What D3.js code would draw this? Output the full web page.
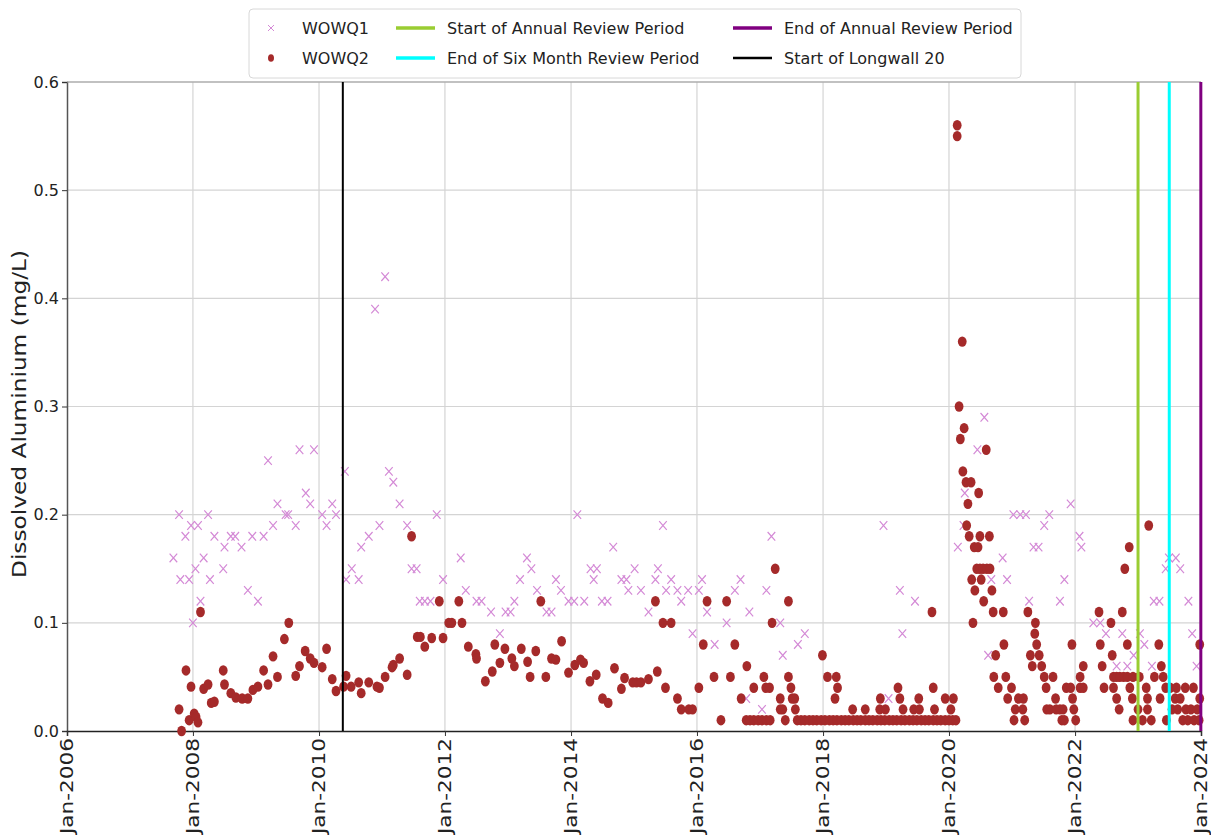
<!DOCTYPE html>
<html>
<head>
<meta charset="utf-8">
<script src="https://cdnjs.cloudflare.com/ajax/libs/d3/7.8.5/d3.min.js"></script>
<style>
html,body{margin:0;padding:0;background:#fff;}
svg{display:block;}
text{font-family:"DejaVu Sans",sans-serif;}
</style>
</head>
<body>
<svg id="chart" width="1211" height="837"></svg>
<script>
// ---------- DATA (dates as decimal years, values in mg/L) ----------
const wowq1Dates = [2007.69,2007.78,2007.80,2007.88,2007.94,2007.97,2008.00,2008.04,2008.08,2008.12,2008.17,2008.24,2008.27,2008.34,2008.48,2008.50,2008.60,2008.67,2008.77,2008.87,2008.94,2009.03,2009.12,2009.19,2009.27,2009.34,2009.47,2009.51,2009.63,2009.69,2009.79,2009.86,2009.92,2010.05,2010.12,2010.21,2010.27,2010.41,2010.43,2010.52,2010.63,2010.67,2010.79,2010.89,2010.96,2011.05,2011.11,2011.18,2011.28,2011.40,2011.47,2011.55,2011.60,2011.68,2011.77,2011.87,2011.97,2012.25,2012.33,2012.50,2012.58,2012.73,2012.87,2012.96,2013.04,2013.10,2013.19,2013.30,2013.37,2013.46,2013.61,2013.69,2013.76,2013.84,2013.96,2014.05,2014.10,2014.21,2014.31,2014.36,2014.41,2014.49,2014.58,2014.67,2014.80,2014.88,2014.91,2015.01,2015.11,2015.23,2015.34,2015.38,2015.46,2015.51,2015.59,2015.69,2015.75,2015.86,2015.93,2016.03,2016.08,2016.16,2016.28,2016.47,2016.60,2016.69,2016.78,2016.83,2017.03,2017.10,2017.18,2017.32,2017.36,2017.60,2017.71,2018.96,2019.04,2019.22,2019.26,2019.46,2020.14,2020.23,2020.25,2020.45,2020.56,2020.62,2020.67,2020.85,2020.92,2021.02,2021.13,2021.22,2021.27,2021.34,2021.42,2021.51,2021.59,2021.76,2021.83,2021.93,2022.07,2022.10,2022.29,2022.40,2022.49,2022.66,2022.75,2022.83,2022.93,2023.03,2023.10,2023.22,2023.25,2023.34,2023.44,2023.49,2023.60,2023.67,2023.80,2023.86,2023.93];
const wowq1Values = [0.16,0.20,0.14,0.18,0.14,0.19,0.10,0.15,0.19,0.12,0.16,0.20,0.14,0.18,0.15,0.17,0.18,0.18,0.17,0.13,0.18,0.12,0.18,0.25,0.19,0.21,0.20,0.20,0.19,0.26,0.22,0.21,0.26,0.20,0.19,0.21,0.20,0.24,0.14,0.15,0.14,0.17,0.18,0.39,0.19,0.42,0.24,0.23,0.21,0.19,0.15,0.15,0.12,0.12,0.12,0.20,0.14,0.16,0.13,0.12,0.12,0.11,0.09,0.11,0.11,0.12,0.14,0.16,0.15,0.13,0.11,0.11,0.14,0.13,0.12,0.12,0.20,0.12,0.15,0.14,0.15,0.12,0.12,0.17,0.14,0.14,0.13,0.15,0.13,0.11,0.14,0.15,0.19,0.13,0.14,0.13,0.12,0.13,0.09,0.13,0.14,0.11,0.08,0.10,0.13,0.14,0.03,0.11,0.02,0.13,0.18,0.10,0.07,0.08,0.09,0.19,0.03,0.13,0.09,0.12,0.17,0.19,0.22,0.26,0.29,0.07,0.14,0.16,0.14,0.20,0.20,0.20,0.12,0.17,0.17,0.19,0.20,0.12,0.14,0.21,0.18,0.17,0.10,0.10,0.09,0.06,0.09,0.06,0.07,0.09,0.08,0.06,0.12,0.12,0.15,0.16,0.16,0.15,0.12,0.09,0.06];

const wowq2Dates = [2007.78,2007.82,2007.89,2007.94,2007.97,2008.02,2008.05,2008.08,2008.12,2008.17,2008.24,2008.29,2008.34,2008.48,2008.50,2008.60,2008.68,2008.78,2008.87,2008.95,2009.03,2009.12,2009.19,2009.27,2009.34,2009.45,2009.52,2009.63,2009.69,2009.78,2009.86,2009.92,2010.05,2010.12,2010.21,2010.27,2010.39,2010.43,2010.51,2010.63,2010.67,2010.79,2010.92,2010.96,2011.05,2011.16,2011.18,2011.28,2011.40,2011.47,2011.56,2011.61,2011.68,2011.79,2011.91,2011.97,2012.06,2012.11,2012.22,2012.27,2012.37,2012.49,2012.50,2012.64,2012.75,2012.79,2012.87,2012.95,2013.06,2013.10,2013.21,2013.31,2013.35,2013.44,2013.52,2013.60,2013.69,2013.76,2013.85,2013.96,2014.06,2014.15,2014.20,2014.30,2014.40,2014.50,2014.59,2014.69,2014.80,2014.85,2014.98,2015.04,2015.11,2015.23,2015.34,2015.37,2015.46,2015.50,2015.59,2015.69,2015.75,2015.87,2015.93,2016.03,2016.10,2016.16,2016.27,2016.38,2016.47,2016.53,2016.60,2016.70,2016.78,2016.79,2016.84,2016.90,2016.90,2016.97,2017.03,2017.06,2017.09,2017.10,2017.15,2017.16,2017.19,2017.24,2017.32,2017.32,2017.36,2017.40,2017.45,2017.45,2017.49,2017.51,2017.55,2017.56,
2017.59,2017.65,2017.71,2017.78,2017.84,2017.90,2017.97,2018.03,2018.10,2018.16,2018.22,2018.29,2018.35,2018.41,2018.48,2018.54,2018.60,2018.67,2018.73,2018.79,2018.86,2018.92,2018.98,2019.05,2019.11,2019.17,2019.24,2019.30,2019.37,2019.43,2019.49,2019.56,2019.62,2019.68,2019.75,2019.81,2019.87,2019.94,2020.00,2020.06,2020.11,
2017.99,2018.07,2018.19,2018.21,2018.23,2018.47,2018.67,2018.90,2018.91,2018.99,2019.19,2019.22,2019.27,2019.44,2019.52,2019.53,2019.73,2019.75,2019.77,2019.94,2020.03,2020.07,
2020.13,2020.13,2020.16,2020.18,2020.21,2020.22,2020.24,2020.27,2020.28,2020.30,2020.32,2020.35,2020.36,2020.38,2020.40,2020.41,2020.44,2020.46,2020.47,2020.49,2020.49,2020.51,2020.54,2020.55,2020.59,2020.60,2020.64,2020.65,2020.68,2020.70,2020.71,2020.74,2020.78,2020.86,2020.87,2020.90,2020.93,2020.99,2021.03,2021.05,2021.10,2021.17,2021.18,2021.20,2021.25,2021.29,2021.32,2021.36,2021.37,2021.39,2021.43,2021.47,2021.51,2021.54,2021.55,2021.60,2021.65,2021.69,2021.70,2021.76,2021.79,2021.81,2021.83,2021.86,2021.93,2021.95,2021.96,2021.98,2022.01,2022.08,2022.08,2022.13,2022.13,2022.38,2022.40,2022.43,2022.46,2022.57,2022.59,2022.61,2022.61,2022.66,2022.66,2022.70,2022.71,2022.75,2022.77,2022.79,2022.83,2022.83,2022.86,2022.87,2022.91,2022.92,2022.92,2023.00,2023.02,2023.07,2023.13,2023.15,2023.15,2023.17,2023.21,2023.26,2023.33,2023.35,2023.37,2023.40,2023.44,2023.45,2023.51,2023.54,2023.59,2023.61,2023.63,2023.67,2023.71,2023.75,2023.76,2023.79,2023.84,2023.88,2023.89,2023.94,2023.97,2023.98,2023.98];
const wowq2Values = [0.02,0.00,0.056,0.01,0.041,0.016,0.013,0.008,0.11,0.039,0.043,0.026,0.027,0.056,0.043,0.035,0.031,0.030,0.030,0.038,0.041,0.056,0.043,0.069,0.05,0.085,0.10,0.051,0.060,0.074,0.067,0.063,0.059,0.076,0.048,0.037,0.041,0.051,0.041,0.045,0.035,0.045,0.041,0.040,0.05,0.059,0.061,0.067,0.052,0.18,0.087,0.087,0.078,0.086,0.12,0.086,0.10,0.10,0.12,0.10,0.078,0.071,0.067,0.046,0.055,0.080,0.063,0.076,0.067,0.060,0.076,0.064,0.05,0.074,0.12,0.05,0.067,0.066,0.083,0.054,0.061,0.066,0.063,0.046,0.052,0.030,0.026,0.058,0.039,0.049,0.045,0.045,0.045,0.048,0.12,0.055,0.10,0.04,0.10,0.03,0.02,0.02,0.02,0.04,0.08,0.12,0.05,0.01,0.12,0.05,0.08,0.03,0.01,0.06,0.01,0.01,0.04,0.01,0.01,0.05,0.04,0.01,0.04,0.01,0.10,0.15,0.03,0.02,0.02,0.01,0.12,0.05,0.04,0.03,0.03,0.02,
0.01,0.01,0.01,0.01,0.01,0.01,0.01,0.01,0.01,0.01,0.01,0.01,0.01,0.01,0.01,0.01,0.01,0.01,0.01,0.01,0.01,0.01,0.01,0.01,0.01,0.01,0.01,0.01,0.01,0.01,0.01,0.01,0.01,0.01,0.01,0.01,0.01,0.01,0.01,0.01,0.01,
0.07,0.05,0.03,0.05,0.04,0.02,0.02,0.02,0.03,0.02,0.04,0.03,0.02,0.02,0.03,0.02,0.11,0.04,0.02,0.03,0.02,0.03,
0.56,0.55,0.30,0.27,0.36,0.24,0.28,0.23,0.19,0.21,0.18,0.23,0.14,0.10,0.17,0.13,0.15,0.17,0.22,0.18,0.15,0.14,0.15,0.12,0.26,0.15,0.18,0.15,0.13,0.11,0.05,0.07,0.04,0.11,0.08,0.05,0.03,0.04,0.01,0.02,0.03,0.02,0.03,0.01,0.11,0.07,0.06,0.09,0.10,0.08,0.07,0.06,0.05,0.04,0.02,0.02,0.05,0.03,0.02,0.02,0.01,0.02,0.01,0.04,0.04,0.08,0.03,0.02,0.01,0.05,0.04,0.06,0.04,0.11,0.08,0.06,0.04,0.10,0.07,0.04,0.05,0.05,0.03,0.02,0.05,0.11,0.05,0.15,0.08,0.05,0.17,0.04,0.03,0.01,0.05,0.02,0.05,0.01,0.04,0.03,0.02,0.19,0.01,0.05,0.08,0.03,0.06,0.05,0.04,0.01,0.04,0.02,0.03,0.04,0.02,0.03,0.01,0.04,0.02,0.01,0.02,0.04,0.01,0.02,0.01,0.08,0.03];

const eventNames = ["Start of Longwall 20","Start of Annual Review Period","End of Six Month Review Period","End of Annual Review Period"];
const eventDates = ["2010-05-19","2023-01-01","2023-07-01","2023-12-31"];
const eventColors = ["#000000","#9acd32","#00ffff","#800080"];
const yTickValues = [0.0,0.1,0.2,0.3,0.4,0.5,0.6];
const yLabel = "Dissolved Aluminium (mg/L)";

// ---------- LAYOUT ----------
const svg = d3.select("#chart");
const L = 67, R = 1201, T = 82, B = 731;

function yrToDate(y){
  const yr = Math.floor(y);
  const s = new Date(yr,0,1), e = new Date(yr+1,0,1);
  return new Date(+s + (y-yr)*(e-s));
}
const x = d3.scaleTime().domain([new Date(2006,0,1), new Date(2024,0,1)]).range([L,R]);
const y = d3.scaleLinear().domain([0,0.6]).range([B,T]);
const xTicks = d3.timeYear.every(2).range(new Date(2006,0,1), new Date(2024,0,2));
const fmt = d3.timeFormat("Jan-%Y");

// grid
const grid = svg.append("g");
grid.selectAll("line.gy").data(yTickValues.filter(v=>v>0)).enter().append("line")
  .attr("x1",L).attr("x2",R).attr("y1",d=>y(d)).attr("y2",d=>y(d))
  .attr("stroke","#d4d4d4").attr("stroke-width",1.2);
grid.selectAll("line.gx").data(xTicks.slice(1)).enter().append("line")
  .attr("x1",d=>x(d)).attr("x2",d=>x(d)).attr("y1",T).attr("y2",B)
  .attr("stroke","#d4d4d4").attr("stroke-width",1.2);

// axes
const yAxis = d3.axisLeft(y).tickValues(yTickValues).tickFormat(d3.format(".1f")).tickSize(5).tickPadding(3);
const gy = svg.append("g").attr("transform",`translate(${L},0)`).call(yAxis);
gy.select(".domain").attr("stroke","#555").attr("stroke-width",1.5);
gy.selectAll(".tick line").attr("stroke","#333");
gy.selectAll(".tick text").attr("font-size",16).attr("fill","#222").attr("font-family","DejaVu Sans");

const xAxis = d3.axisBottom(x).tickValues(xTicks).tickFormat(()=>"").tickSize(5);
const gx = svg.append("g").attr("transform",`translate(0,${B})`).call(xAxis);
gx.select(".domain").attr("stroke","#222").attr("stroke-width",1.5);
gx.selectAll(".tick line").attr("stroke","#333");

svg.append("g").selectAll("text").data(xTicks).enter().append("text")
  .attr("x",d=>x(d)).attr("y",738)
  .attr("transform",d=>`rotate(-90,${x(d)},738)`)
  .attr("text-anchor","end").attr("dy","0.35em")
  .attr("font-size",17).attr("fill","#222")
  .attr("textLength",96).attr("lengthAdjust","spacingAndGlyphs")
  .text(d=>fmt(d));

// y label
svg.append("text").attr("x",19).attr("y",414)
  .attr("transform","rotate(-90,19,414)")
  .attr("text-anchor","middle").attr("dy","0.35em")
  .attr("font-size",20).attr("fill","#222")
  .attr("textLength",328).attr("lengthAdjust","spacingAndGlyphs")
  .text(yLabel);

// top frame
svg.append("line").attr("x1",L).attr("x2",R).attr("y1",T).attr("y2",T).attr("stroke","#999").attr("stroke-width",1.2);

// WOWQ1 crosses
const q1 = wowq1Dates.map((d,i)=>({d:yrToDate(d), v:wowq1Values[i]}));
const xs = 3.8, ys = 4.3;
svg.append("g").selectAll("path").data(q1).enter().append("path")
  .attr("d",p=>{const cx=x(p.d), cy=y(p.v);
    return `M${cx-xs},${cy-ys}L${cx+xs},${cy+ys}M${cx-xs},${cy+ys}L${cx+xs},${cy-ys}`;})
  .attr("stroke","#d48ad6").attr("stroke-width",1.2).attr("fill","none");

// WOWQ2 dots
const q2 = wowq2Dates.map((d,i)=>({d:yrToDate(d), v:wowq2Values[i]}));
svg.append("g").selectAll("ellipse").data(q2).enter().append("ellipse")
  .attr("cx",p=>x(p.d)).attr("cy",p=>y(p.v)).attr("rx",4.4).attr("ry",5.2)
  .attr("fill","#a52a2a");

// event lines
const ev = eventDates.map((d,i)=>({d:d3.timeParse("%Y-%m-%d")(d), c:eventColors[i], n:eventNames[i]}));
svg.append("g").selectAll("line").data(ev).enter().append("line")
  .attr("x1",e=>x(e.d)).attr("x2",e=>x(e.d)).attr("y1",T).attr("y2",B)
  .attr("stroke",e=>e.c).attr("stroke-width",(e,i)=>i===0?2:3);

// legend
const lg = svg.append("g");
lg.append("rect").attr("x",249).attr("y",9).attr("width",772).attr("height",69).attr("rx",4)
  .attr("fill","#fff").attr("stroke","#d8d8d8").attr("stroke-width",1);
const row1 = 28, row2 = 58;
lg.append("path").attr("d",`M268,${row1-3}L274,${row1+3}M268,${row1+3}L274,${row1-3}`)
  .attr("stroke","#d48ad6").attr("stroke-width",1);
lg.append("text").attr("x",302).attr("y",row1).attr("dy","0.36em").attr("font-size",16).attr("fill","#222").text("WOWQ1");
lg.append("ellipse").attr("cx",271).attr("cy",row2).attr("rx",3).attr("ry",3.8).attr("fill","#a52a2a");
lg.append("text").attr("x",302).attr("y",row2).attr("dy","0.36em").attr("font-size",16).attr("fill","#222").text("WOWQ2");
const legItems = [
  {i:1, lx:396, ly:row1},
  {i:2, lx:396, ly:row2},
  {i:3, lx:733, ly:row1},
  {i:0, lx:733, ly:row2}
];
legItems.forEach(it=>{
  lg.append("line").attr("x1",it.lx).attr("x2",it.lx+39).attr("y1",it.ly).attr("y2",it.ly)
    .attr("stroke",eventColors[it.i]).attr("stroke-width",it.i===0?2.5:3.5);
  lg.append("text").attr("x",it.lx+51).attr("y",it.ly).attr("dy","0.36em")
    .attr("font-size",16).attr("fill","#222").text(eventNames[it.i]);
});
</script>
</body>
</html>
